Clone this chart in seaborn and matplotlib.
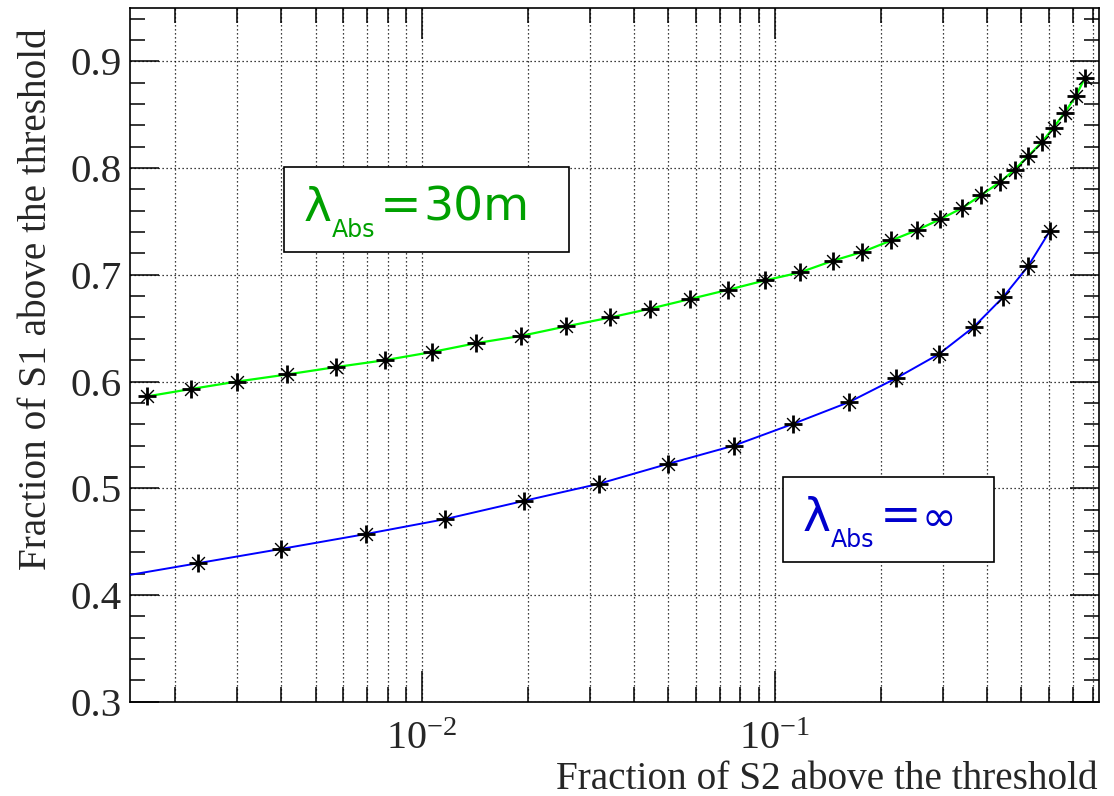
import numpy as np
import pandas as pd
import matplotlib
matplotlib.use("Agg")
import matplotlib.pyplot as plt
from matplotlib.patches import Rectangle
from matplotlib.ticker import LogLocator, MultipleLocator, NullFormatter, FixedLocator, FixedFormatter
import seaborn as sns

# ---------------- data ----------------
x_green = [0.00166, 0.00222, 0.0030, 0.00415, 0.0057, 0.00786, 0.01067, 0.01429,
           0.01916, 0.0256, 0.0342, 0.0443, 0.0574, 0.0739, 0.0938, 0.1178,
           0.1463, 0.1768, 0.214, 0.2536, 0.295, 0.340, 0.3834, 0.434,
           0.4786, 0.522, 0.572, 0.617, 0.663, 0.7125, 0.757]
y_green = [0.586, 0.593, 0.600, 0.6066, 0.6135, 0.620, 0.6276, 0.636,
           0.6428, 0.6516, 0.660, 0.6682, 0.6772, 0.686, 0.6947, 0.7022,
           0.7132, 0.7213, 0.7322, 0.742, 0.7522, 0.7626, 0.7744, 0.7866,
           0.7985, 0.811, 0.8244, 0.838, 0.8516, 0.8672, 0.8844]

x_blue = [0.0012, 0.002324, 0.004003, 0.00697, 0.01162, 0.0195, 0.0317, 0.0498,
          0.0767, 0.1127, 0.1624, 0.2212, 0.2920, 0.3662, 0.4433, 0.522, 0.601]
y_blue = [0.4135, 0.4298, 0.4432, 0.4572, 0.471, 0.4882, 0.5041, 0.5228,
          0.540, 0.5603, 0.5807, 0.6032, 0.6257, 0.651, 0.6788, 0.7078, 0.7406]

x_label = "Fraction of S2 above the threshold"
y_label = "Fraction of S1 above the threshold"
label_green = ["λ", "Abs", "=", "30m"]
label_blue = ["λ", "Abs", "=", "∞"]
x_ticks = [1e-2, 1e-1]
x_ticklabels = [r"$\mathregular{10^{-2}}$", r"$\mathregular{10^{-1}}$"]
y_ticks = [0.3, 0.4, 0.5, 0.6, 0.7, 0.8, 0.9]
y_ticklabels = ["0.3", "0.4", "0.5", "0.6", "0.7", "0.8", "0.9"]

# ---------------- style ----------------
sns.set_style("ticks")
plt.rcParams["font.family"] = ["Liberation Serif", "DejaVu Serif"]
plt.rcParams["mathtext.default"] = "regular"

fig = plt.figure(figsize=(11.14, 7.96), dpi=100)
ax = fig.add_axes([130 / 1114, 1 - 701.7 / 796, 969 / 1114, 693.7 / 796])

df_g = pd.DataFrame({"x": x_green, "y": y_green})
df_b = pd.DataFrame({"x": x_blue, "y": y_blue})

sns.lineplot(data=df_g, x="x", y="y", color="#00ff00", lw=1.6, sort=False,
             estimator=None, ax=ax, zorder=3)
sns.lineplot(data=df_b, x="x", y="y", color="#0000ff", lw=1.4, sort=False,
             estimator=None, ax=ax, zorder=3)

for d in (df_g, df_b):
    sns.scatterplot(data=d, x="x", y="y", marker="+", s=170, linewidth=2.0,
                    color="black", ax=ax, zorder=4)
    sns.scatterplot(data=d, x="x", y="y", marker="x", s=85, linewidth=1.0,
                    color="black", ax=ax, zorder=4)
    sns.scatterplot(data=d, x="x", y="y", marker="o", s=16, linewidth=0,
                    color="black", ax=ax, zorder=5)

ax.set_xscale("log")
ax.set_xlim(0.00149, 0.83)
ax.set_ylim(0.3, 0.95)

# ticks
ax.xaxis.set_major_locator(FixedLocator(x_ticks))
ax.xaxis.set_major_formatter(FixedFormatter(x_ticklabels))
ax.xaxis.set_minor_locator(LogLocator(base=10, subs=np.arange(2, 10), numticks=20))
ax.xaxis.set_minor_formatter(NullFormatter())
ax.yaxis.set_major_locator(FixedLocator(y_ticks))
ax.yaxis.set_major_formatter(FixedFormatter(y_ticklabels))
ax.yaxis.set_minor_locator(MultipleLocator(0.02))

ax.tick_params(axis="both", which="both", direction="in", top=True, right=True,
               width=1.1, color="black")
ax.tick_params(axis="y", which="major", length=21, labelsize=29.5, pad=6)
ax.tick_params(axis="y", which="minor", length=11)
ax.tick_params(axis="x", which="major", length=22, labelsize=29, pad=14)
ax.tick_params(axis="x", which="minor", length=11)

for sp in ax.spines.values():
    sp.set_color("black")
    sp.set_linewidth(1.2)

# grid
ax.grid(False)
ax.grid(True, axis="x", which="both", color="black", linestyle=(0, (1, 2.2)), lw=0.9)
ax.grid(True, axis="y", which="major", color="black", linestyle=(0, (1, 2.2)), lw=0.9)
ax.set_axisbelow(True)

# axis labels (ROOT style: aligned at the axis end)
ax.set_xlabel("")
ax.set_ylabel("")
fig.text(1098 / 1114, 1 - 789 / 796, x_label, ha="right", va="baseline", fontsize=28.3)
fig.text(37 / 1114, 1 - 28 / 796, y_label, ha="center", va="top", rotation=90, fontsize=28.3)

# text boxes
def tbox(x0, y0, x1, y1):
    ax.add_patch(Rectangle((x0, y0), x1 - x0, y1 - y0, transform=ax.transAxes,
                           facecolor="white", edgecolor="black", lw=1.2, zorder=6))

tbox(0.159, 0.6487, 0.4534, 0.7712)
tbox(0.6736, 0.201, 0.892, 0.3243)

sans = ["DejaVu Sans"]
gcol = "#00a000"
bcol = "#0000cc"

def px(xp):
    return (xp - 130) / 969

def py(yp):
    return (701.7 - yp) / 693.7

def put(xp, yp, s, size, col):
    ax.text(px(xp), py(yp), s, transform=ax.transAxes, color=col,
            fontsize=size, family=sans, va="baseline", ha="left", zorder=7)

put(304, 220.7, label_green[0], 34, gcol)
put(332, 236.7, label_green[1], 17, gcol)
put(380, 220.7, label_green[2], 36, gcol)
put(423, 220.7, label_green[3], 34, gcol)

put(803, 530.7, label_blue[0], 34, bcol)
put(831, 546.7, label_blue[1], 17, bcol)
put(880, 530.7, label_blue[2], 36, bcol)
put(922, 530.7, label_blue[3], 30, bcol)

fig.savefig("out.png", dpi=100)
